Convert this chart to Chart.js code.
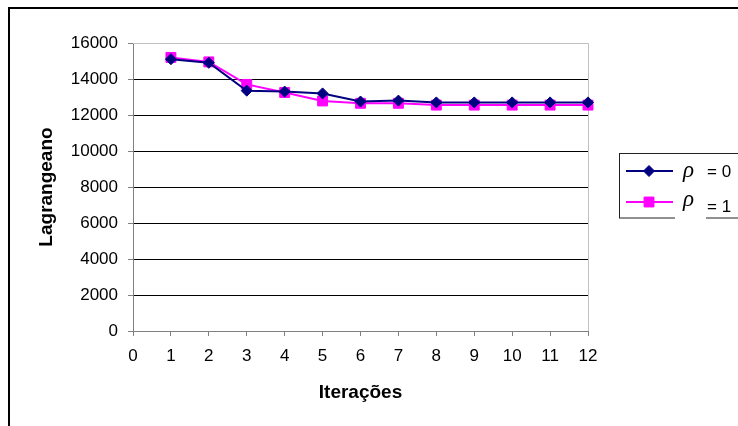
<!DOCTYPE html>
<html>
<head>
<meta charset="utf-8">
<script src="https://cdn.jsdelivr.net/npm/chart.js@4/dist/chart.umd.min.js"></script>
<style>
  html, body { margin: 0; padding: 0; background: #fff; }
  #wrap { width: 738px; height: 426px; }
</style>
</head>
<body>
<div id="wrap"><canvas id="chart" width="738" height="426"></canvas></div>
<script>
// dados
const iteracoes = [1, 2, 3, 4, 5, 6, 7, 8, 9, 10, 11, 12];
const rho0 = [15100, 14900, 13350, 13300, 13200, 12750, 12800, 12700, 12700, 12700, 12700, 12700];
const rho1 = [15200, 14950, 13700, 13250, 12780, 12650, 12650, 12550, 12550, 12550, 12550, 12550];
const rhoValores = ['0', '1'];
const xTicks = [0, 12, 1];       // min, max, passo
const yTicks = [0, 16000, 2000];

const FONT = '"Liberation Sans", Arial, sans-serif';

const toPoints = vals => vals.map((v, i) => ({ x: iteracoes[i], y: v }));

// moldura externa + borda da área de plotagem
const framePlugin = {
  id: 'frame',
  beforeDraw(chart) {
    const ctx = chart.ctx;
    ctx.save();
    ctx.fillStyle = '#fff';
    ctx.fillRect(0, 0, chart.width, chart.height);
    ctx.strokeStyle = '#000';
    ctx.lineWidth = 2;
    ctx.strokeRect(9, 8, 900, 900);
    ctx.restore();
  },
  beforeDatasetsDraw(chart) {
    const { ctx, chartArea } = chart;
    ctx.save();
    ctx.strokeStyle = '#c0c0c0';
    ctx.lineWidth = 1;
    ctx.beginPath();
    ctx.moveTo(chartArea.left, chartArea.top + 0.5);
    ctx.lineTo(chartArea.right + 0.5, chartArea.top + 0.5);
    ctx.lineTo(chartArea.right + 0.5, chartArea.bottom);
    ctx.stroke();
    ctx.restore();
  }
};

// legenda no estilo do Excel
const legendPlugin = {
  id: 'excelLegend',
  afterDraw(chart) {
    const ctx = chart.ctx;
    ctx.save();
    ctx.strokeStyle = '#222';
    ctx.lineWidth = 1;
    ctx.strokeRect(619.5, 153.5, 200, 64.5);
    // caixa branca do símbolo sobre a borda
    ctx.fillStyle = '#fff';
    ctx.fillRect(675, 208, 31, 12);

    const rows = [
      { lineY: 171, rhoY: 177, txtY: 177 },
      { lineY: 202, rhoY: 206, txtY: 212 }
    ];
    chart.data.datasets.forEach((ds, i) => {
      const r = rows[i];
      ctx.strokeStyle = ds.borderColor;
      ctx.lineWidth = 2;
      ctx.beginPath();
      ctx.moveTo(626, r.lineY);
      ctx.lineTo(673, r.lineY);
      ctx.stroke();

      ctx.fillStyle = ds.pointBackgroundColor;
      ctx.strokeStyle = ds.pointBorderColor;
      ctx.lineWidth = 1;
      Chart.helpers.drawPoint(ctx, { pointStyle: ds.pointStyle, radius: ds.pointRadius, borderWidth: 1 }, 649, r.lineY);

      ctx.fillStyle = '#000';
      ctx.textBaseline = 'alphabetic';
      ctx.font = 'italic 23px "Liberation Serif", serif';
      ctx.fillText('ρ', 683, r.rhoY);
      ctx.font = '17px ' + FONT;
      ctx.fillText('= ' + rhoValores[i], 707, r.txtY);
    });
    ctx.restore();
  }
};

const yGridColor = ctx => {
  const v = ctx.tick ? ctx.tick.value : 0;
  if (v === yTicks[1]) return '#c0c0c0';
  return '#000';
};

new Chart(document.getElementById('chart'), {
  type: 'scatter',
  data: {
    datasets: [
      {
        label: 'ρ = 0',
        data: toPoints(rho0),
        showLine: true,
        borderColor: '#000080',
        backgroundColor: '#000080',
        borderWidth: 2,
        pointStyle: 'rectRot',
        pointRadius: 5.5,
        pointBackgroundColor: '#000080',
        pointBorderColor: '#000080',
        pointBorderWidth: 1,
        clip: false
      },
      {
        label: 'ρ = 1',
        data: toPoints(rho1),
        showLine: true,
        borderColor: '#ff00ff',
        backgroundColor: '#ff00ff',
        borderWidth: 2,
        pointStyle: 'rect',
        pointRadius: 7,
        pointBackgroundColor: '#ff00ff',
        pointBorderColor: '#ff00ff',
        pointBorderWidth: 1,
        clip: false
      }
    ]
  },
  options: {
    responsive: false,
    animation: false,
    layout: { padding: { left: 0, top: 43, right: 150, bottom: 0 } },
    plugins: {
      legend: { display: false },
      tooltip: { enabled: false }
    },
    scales: {
      x: {
        type: 'linear',
        min: xTicks[0],
        max: xTicks[1],
        afterFit: scale => { scale.height = 95; },
        ticks: {
          stepSize: xTicks[2],
          color: '#000',
          padding: 10,
          font: { family: FONT, size: 17 },
          callback: v => String(v)
        },
        grid: {
          drawOnChartArea: false,
          drawTicks: true,
          tickLength: 5,
          tickColor: '#808080'
        },
        border: { color: '#808080', width: 1 },
        title: {
          display: true,
          text: 'Iterações',
          color: '#000',
          font: { family: FONT, size: 19, weight: 'bold' },
          padding: { top: 0, bottom: 22 }
        }
      },
      y: {
        min: yTicks[0],
        max: yTicks[1],
        afterFit: scale => { scale.width = 133; },
        ticks: {
          stepSize: yTicks[2],
          color: '#000',
          padding: 10,
          font: { family: FONT, size: 17 },
          callback: v => String(v)
        },
        grid: {
          color: yGridColor,
          lineWidth: 1,
          tickLength: 5,
          tickColor: '#808080'
        },
        border: { color: '#808080', width: 1 },
        title: {
          display: true,
          text: 'Lagrangeano',
          color: '#000',
          font: { family: FONT, size: 19, weight: 'bold' },
          padding: { top: 35, bottom: 0 }
        }
      }
    }
  },
  plugins: [framePlugin, legendPlugin]
});
</script>
</body>
</html>
